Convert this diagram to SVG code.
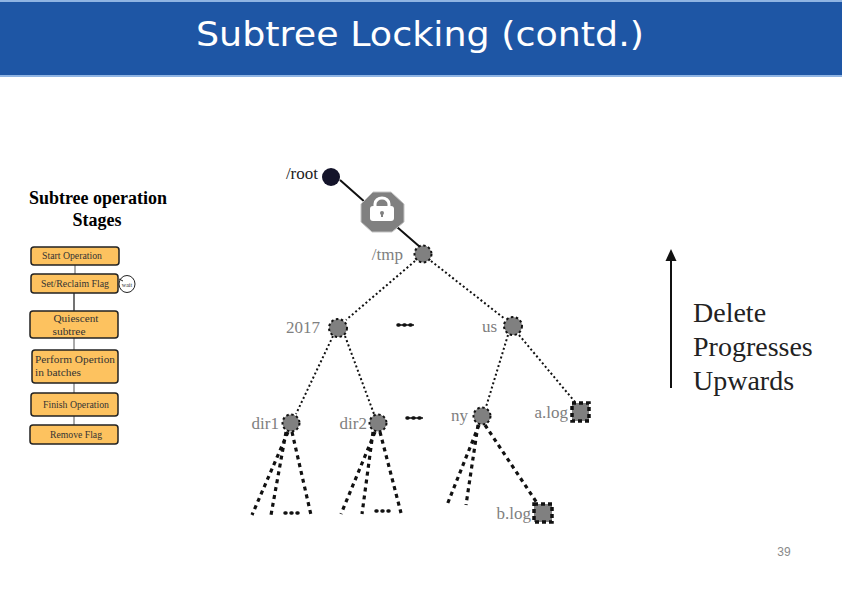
<svg xmlns="http://www.w3.org/2000/svg" width="842" height="595" viewBox="0 0 842 595">
<style>
.stage{fill:#fdc25f;stroke:#222;stroke-width:1.5}
.st{font:10.5px "Liberation Serif",serif;fill:#333;text-anchor:middle}
.node{fill:#808080;stroke:#111;stroke-width:2;stroke-dasharray:2.5 2.5}
.leaf{fill:#808080;stroke:#111;stroke-width:3.5;stroke-dasharray:4 3}
.lab{font:17px "Liberation Serif",serif;fill:#808080;text-anchor:end}
.thin{stroke:#111;stroke-width:2;stroke-dasharray:2 2.5;fill:none}
.thick{stroke:#111;stroke-width:3.2;stroke-dasharray:4 4;fill:none}
.solid{stroke:#111;stroke-width:2;fill:none}
.dots{stroke:#111;stroke-width:3.5;stroke-linecap:round;stroke-dasharray:1 5;fill:none}
.big{font:28px "Liberation Serif",serif;fill:#222}
</style>
<defs>
<marker id="ah" markerWidth="12" markerHeight="12" refX="1" refY="6" orient="auto" markerUnits="userSpaceOnUse"><path d="M0 0.5L12 6L0 11.5Z" fill="#111"/></marker>
</defs>
<rect width="842" height="595" fill="#fff"/>
<g id="header">
<rect x="0" y="0" width="842" height="77" fill="#8fb4e3"/>
<rect x="0" y="2" width="842" height="73" fill="#1e56a5"/>
<text x="420" y="46" font-family="DejaVu Sans, sans-serif" font-size="33" fill="#fff" text-anchor="middle" textLength="448" lengthAdjust="spacingAndGlyphs">Subtree Locking (contd.)</text>
</g>
<g id="connectors">
<path d="M75 265V274M74 338V350M74 383V393M74 416V425" stroke="#555" stroke-width="1" fill="none"/>
<path d="M74 293V311" stroke="#444" stroke-width="1.5"/>
<path class="solid" d="M340 180L366 203M397 227L420 247"/>
<path class="thin" d="M415 261L346 320M431 261L505 319M333 336L296 414M345 336L374 414M508 335L486 407M519 335L575 402"/>
<path class="thick" d="M288 432L252 515M286 432L271 515M292 432L311 515M375 432L341 514M373 432L362 514M380 432L401 513M479 425L447 505M478 425L466 505M485 425L537 503"/>
<path class="solid" d="M671 388V260" marker-end="url(#ah)"/>
</g>
<g id="stages-title"><text x="98" y="204" text-anchor="middle" font-family="Liberation Serif, serif" font-weight="700" font-size="18" fill="#000">Subtree operation</text><text x="97" y="226" text-anchor="middle" font-family="Liberation Serif, serif" font-weight="700" font-size="18" fill="#000">Stages</text></g>
<g id="start"><rect class="stage" x="31" y="247" width="88" height="18" rx="3"/><text class="st" x="72" y="259" textLength="60" lengthAdjust="spacingAndGlyphs">Start Operation</text></g>
<g id="set-flag"><rect class="stage" x="31" y="274" width="87" height="19" rx="3"/><text class="st" x="75" y="287" textLength="68" lengthAdjust="spacingAndGlyphs">Set/Reclaim Flag</text></g>
<g id="wait"><ellipse cx="127" cy="284" rx="8" ry="8.5" fill="#fff" stroke="#222" stroke-width="1"/><path d="M119 279L123 281" stroke="#222"/><text x="127" y="287" text-anchor="middle" font-family="Liberation Serif, serif" font-size="6" fill="#333">wait</text></g>
<g id="quiesce"><rect class="stage" x="30" y="311" width="88" height="27" rx="3"/><text class="st" x="76" y="322" textLength="45" lengthAdjust="spacingAndGlyphs">Quiescent</text><text class="st" x="69" y="335" textLength="33" lengthAdjust="spacingAndGlyphs">subtree</text></g>
<g id="perform"><rect class="stage" x="32" y="350" width="86" height="33" rx="3"/><text class="st" x="75" y="363" textLength="80" lengthAdjust="spacingAndGlyphs">Perform Opertion</text><text class="st" x="58" y="376" textLength="46" lengthAdjust="spacingAndGlyphs">in batches</text></g>
<g id="finish"><rect class="stage" x="31" y="393" width="87" height="23" rx="3"/><text class="st" x="76" y="408" textLength="66" lengthAdjust="spacingAndGlyphs">Finish Operation</text></g>
<g id="remove"><rect class="stage" x="30" y="425" width="88" height="19" rx="3"/><text class="st" x="76" y="438" textLength="52" lengthAdjust="spacingAndGlyphs">Remove Flag</text></g>
<g id="root"><circle cx="331" cy="177" r="9" fill="#14142a"/><text x="318" y="179" text-anchor="end" font-family="Liberation Serif, serif" font-size="17" fill="#222">/root</text></g>
<g id="lock"><path d="M373 192H391L404 204V222L392 232H372L361 222V204Z" fill="#808080" stroke="#c4c4c4"/><path d="M375 207V204A7 6 0 0 1 389 204V207" fill="#808080" stroke="#fff" stroke-width="3"/><rect x="370" y="206" width="24" height="15" rx="3" fill="#fff"/><path d="M382 212V217" stroke="#808080" stroke-width="2"/><circle cx="382" cy="213" r="2" fill="#808080"/></g>
<g id="tmp"><circle class="node" cx="423" cy="254" r="8.5"/><text class="lab" x="403" y="260">/tmp</text></g>
<g id="y2017"><circle class="node" cx="338" cy="328" r="9"/><text class="lab" x="320" y="333">2017</text></g>
<g id="us"><circle class="node" cx="513" cy="326" r="9"/><text class="lab" x="497" y="332">us</text></g>
<g id="dir1"><circle class="node" cx="291" cy="423" r="8.5"/><text class="lab" x="279" y="429">dir1</text></g>
<g id="dir2"><circle class="node" cx="378" cy="423" r="8.5"/><text class="lab" x="367" y="429">dir2</text></g>
<g id="ny"><circle class="node" cx="482" cy="416" r="8.5"/><text class="lab" x="468" y="421">ny</text></g>
<g id="alog"><rect class="leaf" x="572" y="403" width="17" height="18"/><text class="lab" x="568" y="418">a.log</text></g>
<g id="blog"><rect class="leaf" x="534" y="504" width="18" height="18"/><text class="lab" x="531" y="519">b.log</text></g>
<g id="ellipses"><path class="dots" d="M398 325H415M407 418H424M285 513H301M376 511H391"/><path d="M398 325H414M407 418H423" stroke="#111" stroke-width="1.5"/></g>
<g id="note"><text class="big" x="693" y="322">Delete</text><text class="big" x="693" y="356">Progresses</text><text class="big" x="693" y="390">Upwards</text></g>
<text id="page" x="784" y="556" text-anchor="middle" font-family="Liberation Sans, sans-serif" font-size="12" fill="#8a8a8a">39</text>
</svg>
